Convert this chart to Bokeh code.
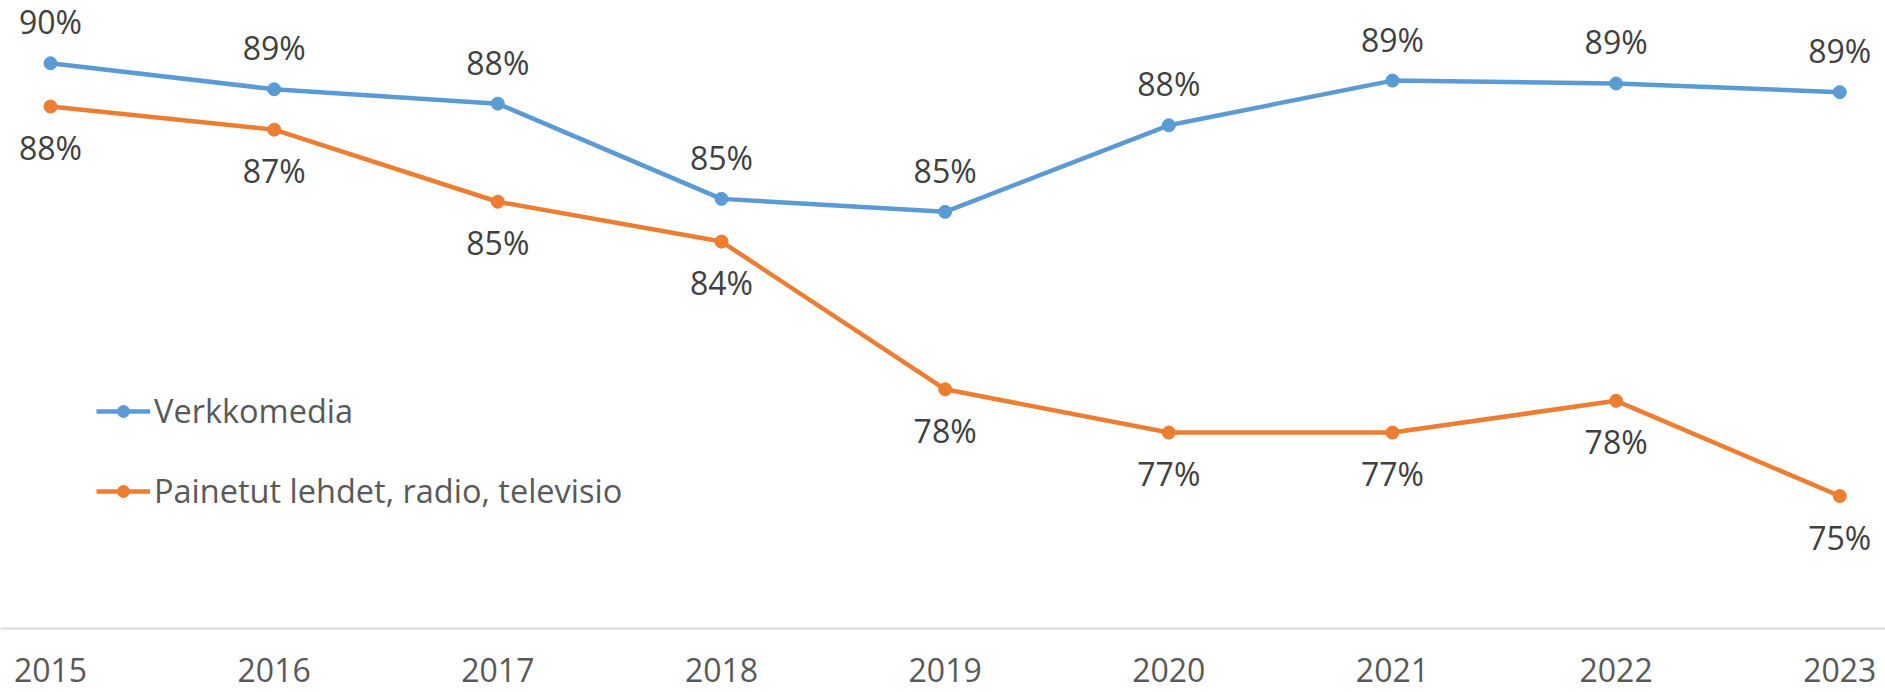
from bokeh.plotting import figure
from bokeh.models import Range1d, Legend, LegendItem, ColumnDataSource, Span
from bokeh.core.properties import value
from bokeh.embed import file_html
from bokeh.resources import INLINE

years = [2015, 2016, 2017, 2018, 2019, 2020, 2021, 2022, 2023]
year_labels = ["2015", "2016", "2017", "2018", "2019", "2020", "2021", "2022", "2023"]
verkkomedia = [89.7, 88.8, 88.3, 85.0, 84.55, 87.55, 89.1, 89.0, 88.7]
painetut = [88.2, 87.4, 84.9, 83.52, 78.4, 76.9, 76.9, 78.0, 74.7]
series_names = ["Verkkomedia", "Painetut lehdet, radio, televisio"]

BLUE = "#5B9BD5"
ORANGE = "#ED7D31"
FONT = "Open Sans"
AXIS_MIN = 70.108   # value where the category axis crosses
Y_TOP = 91.876

p = figure(width=1885, height=692, output_backend="svg", toolbar_location=None,
           x_range=Range1d(2014.7764, 2023.2044), y_range=Range1d(67.89, Y_TOP),
           x_axis_location=None, y_axis_location=None,
           min_border_left=0, min_border_right=0, min_border_top=0, min_border_bottom=0)
p.outline_line_color = None
p.xgrid.visible = False
p.ygrid.visible = False
p.background_fill_color = "white"
p.border_fill_color = "white"

# category axis line and its labels
p.add_layout(Span(location=AXIS_MIN, dimension="width", line_color="#D9D9D9", line_width=2))
src_ax = ColumnDataSource(dict(x=years, y=[AXIS_MIN] * len(years), t=year_labels))
p.text("x", "y", text="t", source=src_ax, y_offset=41, text_align="center",
       text_baseline="middle", text_font=value(FONT), text_font_size="32px",
       text_color="#595959")

def fmt(vals):
    return [f"{round(v)}%" for v in vals]

src_b = ColumnDataSource(dict(x=years, y=verkkomedia, t=fmt(verkkomedia)))
src_o = ColumnDataSource(dict(x=years, y=painetut, t=fmt(painetut)))

lb = p.line("x", "y", source=src_b, line_color=BLUE, line_width=4.5)
mb = p.scatter("x", "y", source=src_b, size=13, fill_color=BLUE, line_color=BLUE)
lo = p.line("x", "y", source=src_o, line_color=ORANGE, line_width=4.5)
mo = p.scatter("x", "y", source=src_o, size=13, fill_color=ORANGE, line_color=ORANGE)

p.text("x", "y", text="t", source=src_b, y_offset=-41.5, text_align="center",
       text_baseline="middle", text_font=value(FONT), text_font_size="32px",
       text_color="#404040")
p.text("x", "y", text="t", source=src_o, y_offset=41, text_align="center",
       text_baseline="middle", text_font=value(FONT), text_font_size="32px",
       text_color="#404040")

legend = Legend(items=[LegendItem(label=series_names[0], renderers=[lb, mb]),
                       LegendItem(label=series_names[1], renderers=[lo, mo])],
                location=(96, 179), orientation="vertical",
                glyph_width=54, glyph_height=30, label_standoff=4, spacing=35,
                padding=0, margin=0, border_line_color=None,
                background_fill_alpha=0,
                label_text_font=FONT, label_text_font_size="32.5px",
                label_text_color="#595959")
p.add_layout(legend)

open("out.html", "w").write(file_html(p, INLINE))
